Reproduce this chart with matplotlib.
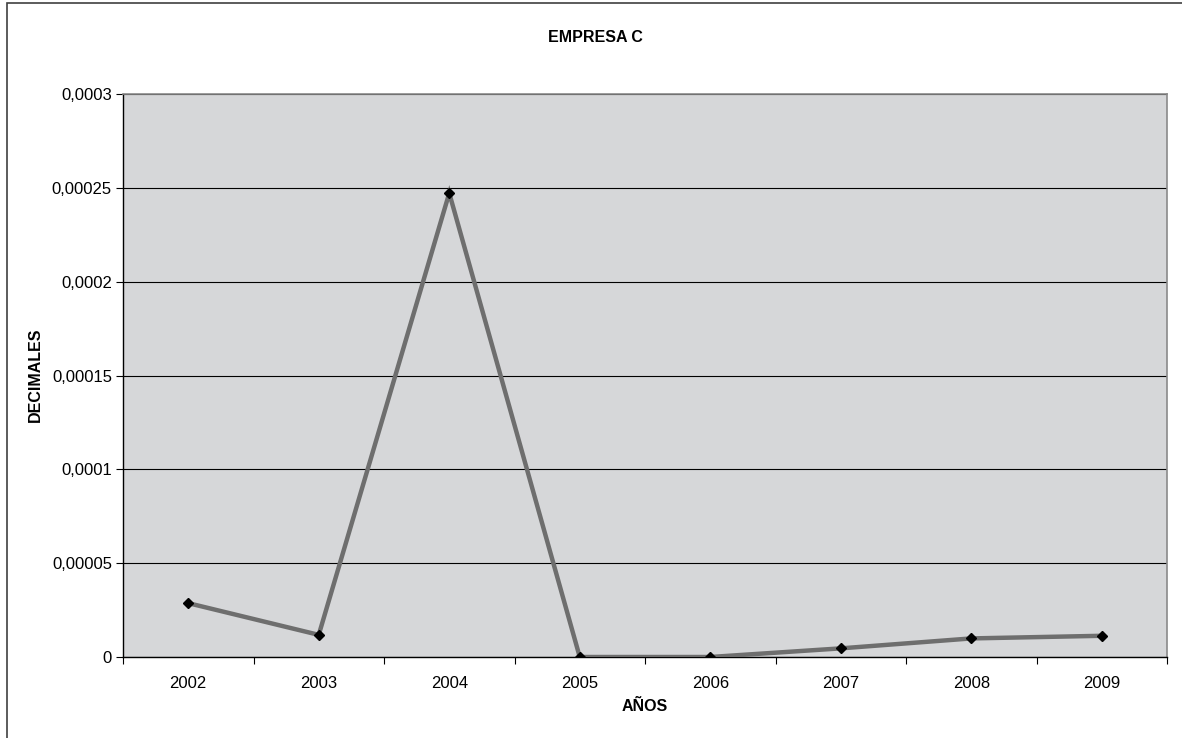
import matplotlib
matplotlib.use("Agg")
import matplotlib.pyplot as plt
from matplotlib.patches import Rectangle
from matplotlib.ticker import FixedLocator

years = ["2002", "2003", "2004", "2005", "2006", "2007", "2008", "2009"]
values = [0.0000287, 0.0000118, 0.0002472, 0.0, 0.0, 0.0000046, 0.0000099, 0.0000113]
yticks = [0, 0.00005, 0.0001, 0.00015, 0.0002, 0.00025, 0.0003]
ytick_labels = ["0", "0,00005", "0,0001", "0,00015", "0,0002", "0,00025", "0,0003"]
title = "EMPRESA C"
xlabel = "AÑOS"
ylabel = "DECIMALES"

plt.rcParams['font.family'] = ['Liberation Sans', 'DejaVu Sans']

fig = plt.figure(figsize=(11.82, 7.38), dpi=100)
fig.patch.set_facecolor('white')

# outer chart border
fig.patches.append(Rectangle((7/1182, -0.05), 1.2, 1 - 3/738 + 0.05,
                             transform=fig.transFigure, fill=False,
                             edgecolor='#404040', linewidth=1.2, zorder=0))

ax = fig.add_axes([123/1182, 1 - 657/738, (1167 - 123)/1182, (657 - 94)/738])
ax.set_facecolor('#d6d7d9')

x = list(range(len(years)))
ax.plot(x, values, color='#6e6e6e', linewidth=3.2, solid_joinstyle='miter',
        marker='D', markersize=5.5, markerfacecolor='black',
        markeredgecolor='black', zorder=3)

ax.set_xlim(-0.5, len(years) - 0.5)
ax.set_ylim(0, 0.0003)

ax.yaxis.set_major_locator(FixedLocator(yticks))
ax.set_yticklabels(ytick_labels)
ax.grid(axis='y', color='black', linewidth=0.8)
ax.set_axisbelow(True)

ax.set_xticks(x)
ax.set_xticklabels(years)
ax.set_xticks([i - 0.5 for i in range(len(years) + 1)], minor=True)
ax.tick_params(axis='x', which='major', length=0, pad=14, labelsize=12)
ax.tick_params(axis='x', which='minor', length=5, width=0.8, direction='out', color='black')
ax.tick_params(axis='y', length=5, width=0.8, direction='out', labelsize=12, pad=3)

for s in ['top', 'right']:
    ax.spines[s].set_color('#8a8a8a')
    ax.spines[s].set_linewidth(1.2)
for s in ['left', 'bottom']:
    ax.spines[s].set_color('black')
    ax.spines[s].set_linewidth(1.0)

fig.text(595/1182, 1 - 38/738, title, ha='center', va='center',
         fontsize=11.5, fontweight='bold')
fig.text(645/1182, 1 - 706.5/738, xlabel, ha='center', va='center',
         fontsize=11.5, fontweight='bold')
fig.text(35/1182, 1 - 375/738, ylabel, ha='center', va='center',
         rotation=90, fontsize=11.5, fontweight='bold')

fig.savefig('out.png', dpi=100, facecolor='white')
